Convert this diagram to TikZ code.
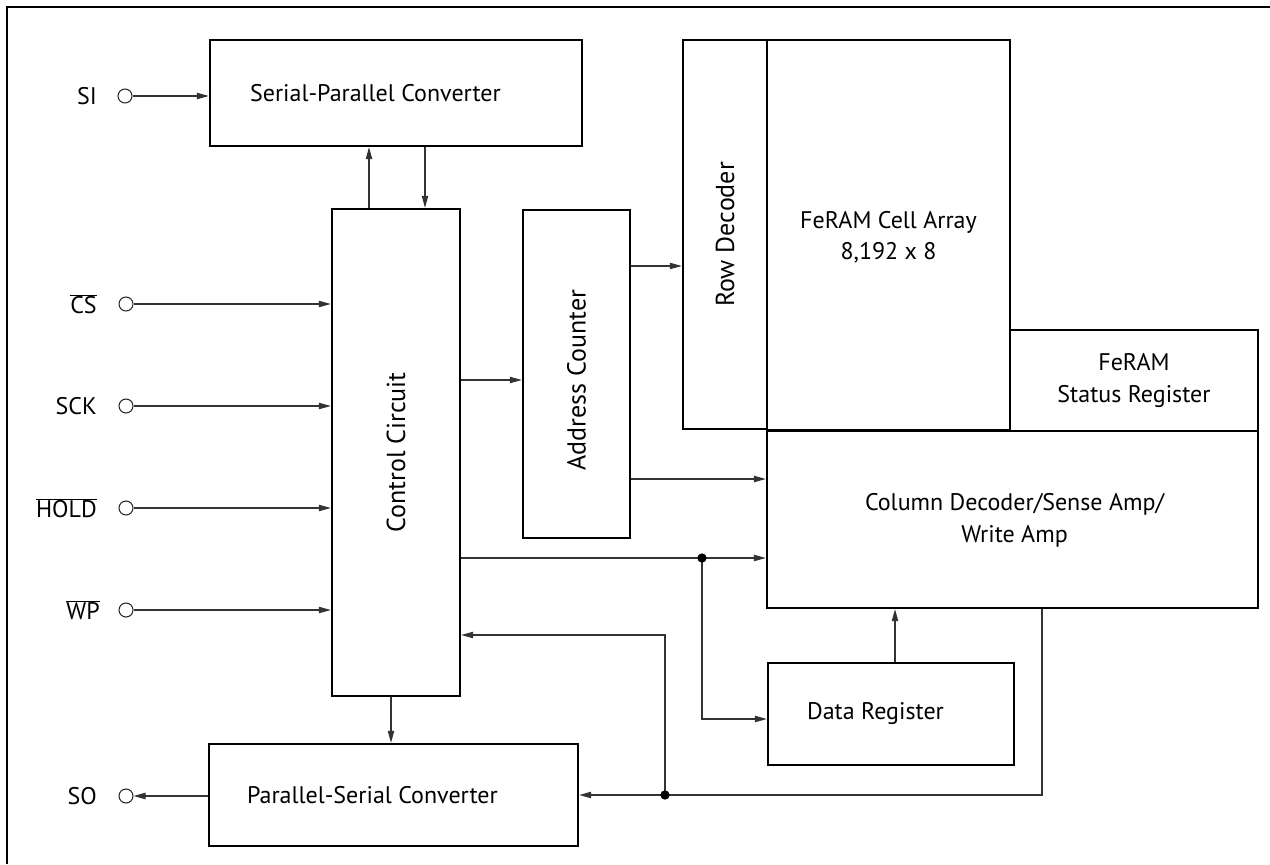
\documentclass[tikz,border=0pt]{standalone}
\usepackage{fontspec}
\setmainfont{PT Sans}
\usetikzlibrary{arrows.meta,fit,calc}
\begin{document}
\begin{tikzpicture}[x=0.75pt,y=-0.75pt,
  blk/.style={draw=black, line width=1.8pt, inner sep=0pt},
  wire/.style={draw=black!80, line width=0.8pt},
  arr/.style={wire, -{Triangle[length=9pt,width=4.8pt]}},
  pin/.style={circle, draw=black!85, line width=0.8pt, fill=white, minimum size=10.5pt, inner sep=0pt},
  dot/.style={circle, fill=black, minimum size=7pt, inner sep=0pt},
  lbl/.style={font=\fontsize{18}{23.5}\selectfont, align=center, inner sep=0pt},
  vlbl/.style={font=\fontsize{19.5}{23.5}\selectfont, inner sep=0pt, rotate=90},
  pinlbl/.style={lbl, anchor=east}]
\useasboundingbox (0,0) rectangle (1270,864);
% frame (top and left only)
\draw[line width=1.5pt] (6.5,864) -- (6.5,6.5) -- (1270,6.5);

% blocks
\node[blk, fit={(210,40) (582,146)}] (sp) {};
\node[blk, fit={(332,209) (460,696)}] (ctl) {};
\node[blk, fit={(523,210) (630,538)}] (ac) {};
\node[blk, fit={(683,40) (767,429)}] (rd) {};
\node[blk, fit={(767,40) (1010,430)}] (ca) {};
\node[blk, fit={(1010,330) (1258,431)}] (sr) {};
\node[blk, fit={(767,431) (1258,608)}] (cd) {};
\node[blk, fit={(768,663) (1014,765)}] (dr) {};
\node[blk, fit={(209,744) (578,846)}] (ps) {};

% block texts
\node[lbl, anchor=west] at ($(sp.west)+(41,0)$) {Serial-Parallel Converter};
\node[vlbl] at (ctl.center) {Control Circuit};
\node[vlbl] at ($(ac.center)+(0,6)$) {Address Counter};
\node[vlbl] at (rd.center) {Row Decoder};
\node[lbl] at ($(ca.center)+(0,2)$) {FeRAM Cell Array\\8,192 x 8};
\node[lbl] at (sr.center) {FeRAM\\Status Register};
\node[lbl] at ($(cd.center)+(2,1)$) {Column Decoder/Sense Amp/\\Write Amp};
\node[lbl, anchor=west] at ($(dr.west)+(40,0)$) {Data Register};
\node[lbl, anchor=west] at ($(ps.west)+(39,0)$) {Parallel-Serial Converter};

% pins
\node[pin] (si) at (125,96) {};
\node[pin] (cs) at (126,304) {};
\node[pin] (sck) at (126,406) {};
\node[pin] (hold) at (126,508) {};
\node[pin] (wp) at (126,610) {};
\node[pin] (so) at (126,796) {};
\node[pinlbl] at (97,96) {SI};
\node[pinlbl] at (97,304) {$\overline{\hbox{CS}}$};
\node[pinlbl] at (97,406) {SCK};
\node[pinlbl] at (97,508) {$\overline{\hbox{HOLD}}$};
\node[pinlbl] at (100,610) {$\overline{\hbox{WP}}$};
\node[pinlbl] at (97,796) {SO};

% helper coordinates
\coordinate (x369) at (369,0);
\coordinate (x425) at (425,0);
\coordinate (x391) at (391,0);
\coordinate (x895) at (895,0);
\coordinate (x1042) at (1042,0);
\coordinate (y380) at (0,380);
\coordinate (y266) at (0,266);
\coordinate (y479) at (0,479);
\coordinate (y719) at (0,719);
\coordinate (y635) at (0,635);

% connectors
\draw[arr] (si) -- (si -| sp.west);
\draw[arr] (x369 |- ctl.north) -- (x369 |- sp.south);
\draw[arr] (x425 |- sp.south) -- (x425 |- ctl.north);
\draw[arr] (cs) -- (cs -| ctl.west);
\draw[arr] (sck) -- (sck -| ctl.west);
\draw[arr] (hold) -- (hold -| ctl.west);
\draw[arr] (wp) -- (wp -| ctl.west);
\draw[arr] (ctl.east |- y380) -- (ac.west |- y380);
\draw[arr] (ac.east |- y266) -- (rd.west |- y266);
\draw[arr] (ac.east |- y479) -- (cd.west |- y479);

\coordinate (j1c) at (702,558);
\coordinate (j2c) at (665,795);
\draw[arr] (ctl.east |- j1c) -- (j1c -| cd.west);
\draw[arr] (j1c) |- (dr.west |- y719);
\draw[arr] (x895 |- dr.north) -- (x895 |- cd.south);
\draw[arr] (x1042 |- cd.south) |- (j2c -| ps.east);
\draw[arr] (j2c) |- (ctl.east |- y635);
\draw[arr] (x391 |- ctl.south) -- (x391 |- ps.north);
\draw[arr] (ps.west |- so) -- (so);

\node[dot] (j1) at (j1c) {};
\node[dot] (j2) at (j2c) {};
\end{tikzpicture}
\end{document}
